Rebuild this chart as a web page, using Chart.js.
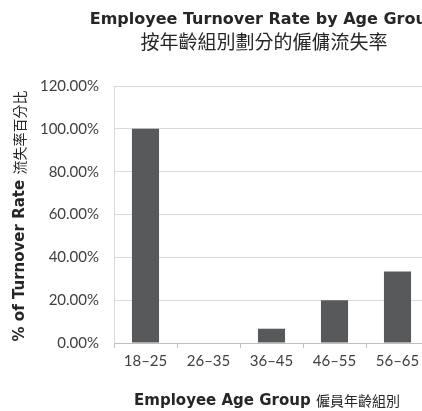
<!DOCTYPE html>
<html>
<head>
<meta charset="utf-8">
<script src="https://cdn.jsdelivr.net/npm/chart.js@4"></script>
<style>
	html, body { margin: 0; padding: 0; background: #fff; overflow: hidden; }
	#wrap { width: 528px; height: 411px; }
</style>
</head>
<body>
<div id="wrap"><canvas id="chart" width="528" height="411"></canvas></div>
<script>
const ageGroups = ["18–25", "26–35", "36–45", "46–55", "56–65"];
const turnoverRates = [1.0, 0.0, 0.0667, 0.2, 0.3333];
const yTicks = [0, 0.2, 0.4, 0.6, 0.8, 1.0, 1.2];

const titleEn = "Employee Turnover Rate by Age Group";
const titleZh = "按年齡組別劃分的僱傭流失率";
const xTitleEn = "Employee Age Group ";
const xTitleZh = "僱員年齡組別";
const yTitleEn = "% of Turnover Rate ";
const yTitleZh = "流失率百分比";

const boldFont = "'DejaVu Sans', sans-serif";
const tickFont = "Lato, sans-serif";
const cjkFont = "'Noto Sans CJK TC', sans-serif";

// draws the two axis titles, english part bold and chinese part regular
const axisTitles = {
	id: "axisTitles",
	afterDraw(chart) {
		const ctx = chart.ctx;
		function mixed(en, zh, cx, cy, size) {
			ctx.font = "bold " + size + "px " + boldFont;
			const w1 = ctx.measureText(en).width;
			ctx.font = "14px " + cjkFont;
			const w2 = ctx.measureText(zh).width;
			let x = cx - (w1 + w2) / 2;
			ctx.textBaseline = "middle";
			ctx.textAlign = "left";
			ctx.fillStyle = "#262626";
			ctx.font = "bold " + size + "px " + boldFont;
			ctx.fillText(en, x, cy);
			ctx.font = "14px " + cjkFont;
			ctx.fillText(zh, x + w1, cy);
		}
		ctx.save();
		mixed(xTitleEn, xTitleZh, 267, 401, 15);
		ctx.translate(20, 216);
		ctx.rotate(-Math.PI / 2);
		mixed(yTitleEn, yTitleZh, 0, 0, 15);
		ctx.restore();
	},
};

new Chart(document.getElementById("chart"), {
	type: "bar",
	data: {
		labels: ageGroups,
		datasets: [
			{
				data: turnoverRates,
				backgroundColor: "#58595b",
				categoryPercentage: 1,
				barPercentage: 0.43,
			},
		],
	},
	options: {
		responsive: false,
		animation: false,
		plugins: {
			legend: { display: false },
			tooltip: { enabled: false },
			title: {
				display: true,
				text: titleEn,
				color: "#262626",
				font: { family: boldFont, size: 16, weight: "bold" },
				padding: { top: 10, bottom: 1 },
			},
			subtitle: {
				display: true,
				text: titleZh,
				color: "#262626",
				font: { family: cjkFont, size: 19, weight: "normal" },
				padding: { top: 0, bottom: 33 },
			},
		},
		scales: {
			x: {
				afterFit(scale) {
					scale.height = 68;
				},
				grid: {
					display: true,
					drawOnChartArea: false,
					drawTicks: true,
					tickLength: 5,
					color: "#bfbfbf",
					offset: true,
				},
				border: { color: "#bfbfbf" },
				ticks: {
					color: "#404040",
					font: { family: tickFont, size: 15 },
					padding: 4,
				},
			},
			y: {
				min: 0,
				max: 1.2,
				afterFit(scale) {
					scale.width = 114;
				},
				afterBuildTicks(scale) {
					scale.ticks = yTicks.map((v) => ({ value: v }));
				},
				grid: {
					color: "#d9d9d9",
					drawTicks: false,
				},
				border: { color: "#d9d9d9" },
				ticks: {
					color: "#404040",
					font: { family: tickFont, size: 15 },
					padding: 15,
					callback: (v) => (v * 100).toFixed(2) + "%",
				},
			},
			// empty right axis, only keeps room so the title centre sits where the original has it
			yRight: {
				position: "right",
				min: 0,
				max: 1.2,
				afterFit(scale) {
					scale.width = 99;
				},
				grid: { drawOnChartArea: false, drawTicks: false },
				border: { display: false },
				ticks: { display: false },
			},
		},
	},
	plugins: [axisTitles],
});
</script>
</body>
</html>
